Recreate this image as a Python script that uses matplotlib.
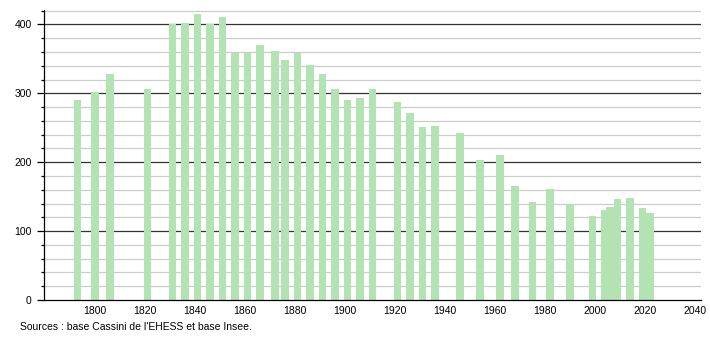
import matplotlib
matplotlib.use("Agg")
import matplotlib.pyplot as plt
from matplotlib.ticker import MultipleLocator

plt.rcParams['font.family'] = ['Liberation Sans', 'DejaVu Sans']

years = [1793, 1800, 1806, 1821, 1831, 1836, 1841, 1846, 1851, 1856, 1861, 1866,
         1872, 1876, 1881, 1886, 1891, 1896, 1901, 1906, 1911, 1921, 1926, 1931,
         1936, 1946, 1954, 1962, 1968, 1975, 1982, 1990, 1999, 2004, 2006, 2009,
         2014, 2019, 2022]
population = [291, 302, 328, 306, 400, 402, 415, 401, 411, 359, 359, 370,
              362, 349, 359, 341, 328, 307, 290, 293, 306, 287, 272, 251,
              252, 242, 203, 210, 165, 143, 161, 139, 122, 131, 135, 146,
              148, 133, 127]
x_ticks = [1800, 1820, 1840, 1860, 1880, 1900, 1920, 1940, 1960, 1980, 2000, 2020, 2040]
y_ticks = [0, 100, 200, 300, 400]
source = "Sources : base Cassini de l'EHESS et base Insee."

fig = plt.figure(figsize=(7.1, 3.4), dpi=100)
ax = fig.add_axes([0.062, 0.1176, 0.925, 0.853])

# grid lines
for v in range(20, 421, 20):
    if v % 100 == 0:
        ax.axhline(v, color='#333333', lw=0.9, zorder=1)
    else:
        ax.axhline(v, color='#cccccc', lw=0.9, zorder=1)

ax.bar(years, population, width=3.0, color='#b3e3b3', zorder=2, linewidth=0)

ax.set_xlim(1779.6, 2042.4)
ax.set_ylim(0, 421)
ax.set_xticks(x_ticks)
ax.set_yticks(y_ticks)
ax.yaxis.set_minor_locator(MultipleLocator(20))
ax.tick_params(axis='x', length=0, labelsize=7.5, pad=4)
ax.tick_params(axis='y', which='major', length=5, width=0.9, labelsize=7.5, pad=4)
ax.tick_params(axis='y', which='minor', length=2.5, width=0.9)

for s in ['top', 'right']:
    ax.spines[s].set_visible(False)
ax.spines['left'].set_linewidth(0.9)
ax.spines['bottom'].set_linewidth(0.9)

fig.text(20 / 710, 1 - 327 / 340, source, fontsize=7.5, va='center', ha='left')

fig.savefig("out.png", dpi=100)
